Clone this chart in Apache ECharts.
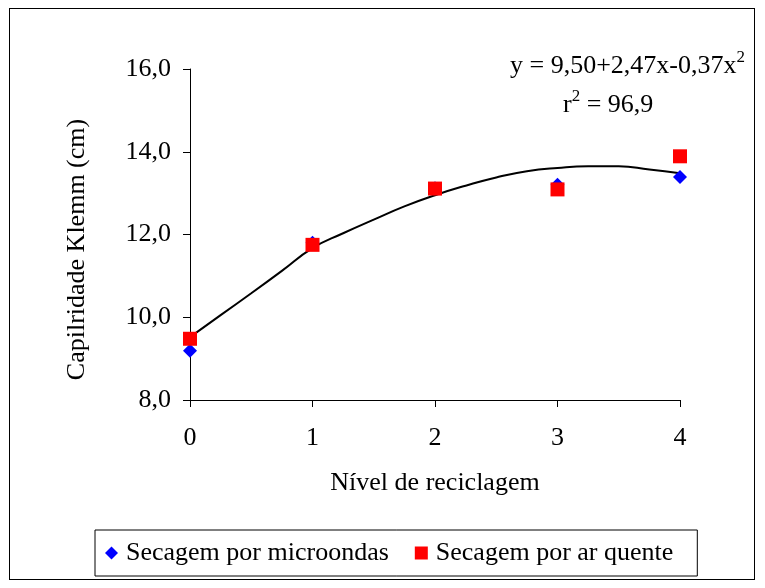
<!DOCTYPE html>
<html>
<head>
<meta charset="utf-8">
<script src="https://cdn.jsdelivr.net/npm/echarts@6/dist/echarts.min.js"></script>
<style>
  html, body { margin: 0; padding: 0; background: #fff; }
  #frame { position: absolute; left: 9px; top: 8px; width: 746px; height: 572px; border: 1px solid #000; box-sizing: border-box; }
  #chart { position: absolute; left: 0; top: 0; width: 765px; height: 588px; }
</style>
</head>
<body>
<div id="frame"></div>
<div id="chart"></div>
<script>
// Recycling level (x) and Klemm capillarity (cm)
const levels = [0, 1, 2, 3, 4];
const microondas = [9.19, 11.80, 13.12, 13.20, 13.39];
const arQuente = [9.48, 11.75, 13.11, 13.09, 13.89];

// Fitted quadratic trend, sampled along the drawn curve
const trendX = [0, 0.25, 0.5, 0.75, 1, 1.25, 1.5, 1.75, 2, 2.25, 2.5, 2.75, 3, 3.25, 3.5, 3.75, 4];
const trendY = [9.52, 10.05, 10.58, 11.12, 11.67, 12.03, 12.36, 12.68, 12.95, 13.18, 13.38, 13.53, 13.61, 13.65, 13.65, 13.57, 13.48];

const yTicks = [8, 10, 12, 14, 16];

const font = '"Liberation Serif", "Times New Roman", serif';
const chart = echarts.init(document.getElementById('chart'));

chart.setOption({
  backgroundColor: 'transparent',
  animation: false,
  textStyle: { fontFamily: font, color: '#000' },
  grid: { left: 190, right: 85, top: 69, bottom: 188 },
  xAxis: {
    type: 'value', min: 0, max: 4, interval: 1,
    name: 'Nível de reciclagem', nameLocation: 'middle', nameGap: 70,
    nameTextStyle: { fontFamily: font, fontSize: 26, color: '#000' },
    axisLine: { show: true, lineStyle: { color: '#000', width: 1 } },
    axisTick: { show: true, length: 7, lineStyle: { color: '#000' } },
    axisLabel: { fontFamily: font, fontSize: 26, color: '#000', margin: 25 },
    splitLine: { show: false }
  },
  yAxis: {
    type: 'value', min: yTicks[0], max: yTicks[yTicks.length - 1], interval: 2,
    name: 'Capilridade Klemm (cm)', nameLocation: 'middle', nameGap: 100, nameRotate: 90,
    nameTextStyle: { fontFamily: font, fontSize: 26, color: '#000', padding: [0, 30, 0, 0] },
    axisLine: { show: true, lineStyle: { color: '#000', width: 1 } },
    axisTick: { show: true, length: 7, lineStyle: { color: '#000' } },
    axisLabel: { fontFamily: font, fontSize: 26, color: '#000', margin: 19,
      formatter: v => v.toFixed(1).replace('.', ',') },
    splitLine: { show: false }
  },
  legend: {
    left: 95, top: 530,
    itemGap: 26, itemWidth: 13, itemHeight: 13,
    padding: [10, 24, 10, 10],
    borderColor: '#000', borderWidth: 1, borderRadius: 0,
    textStyle: { fontFamily: font, fontSize: 26, color: '#000', padding: [0, 0, 0, 3] },
    data: [
      { name: 'Secagem por microondas', icon: 'diamond' },
      { name: 'Secagem por ar quente', icon: 'rect' }
    ]
  },
  graphic: [
    {
      type: 'text', right: 20, top: 49,
      style: {
        text: '{n|y = 9,50+2,47x-0,37x}{s|2}',
        rich: {
          n: { fontFamily: font, fontSize: 26, fill: '#000' },
          s: { fontFamily: font, fontSize: 17, fill: '#000', padding: [0, 0, 18, 0] }
        }
      }
    },
    {
      type: 'text', left: 563, top: 88,
      style: {
        text: '{n|r}{s|2}{n| = 96,9}',
        rich: {
          n: { fontFamily: font, fontSize: 26, fill: '#000' },
          s: { fontFamily: font, fontSize: 17, fill: '#000', padding: [0, 0, 18, 0] }
        }
      }
    }
  ],
  series: [
    {
      name: 'Tendência', type: 'line', smooth: true, showSymbol: false, silent: true,
      lineStyle: { color: '#000', width: 2 },
      data: trendX.map((x, i) => [x, trendY[i]]),
      z: 1
    },
    {
      name: 'Secagem por microondas', type: 'scatter', symbol: 'diamond', symbolSize: 14,
      itemStyle: { color: '#0000ff', opacity: 1 },
      data: levels.map((x, i) => [x, microondas[i]]),
      z: 2
    },
    {
      name: 'Secagem por ar quente', type: 'scatter', symbol: 'rect', symbolSize: 14,
      itemStyle: { color: '#ff0000', opacity: 1 },
      data: levels.map((x, i) => [x, arQuente[i]]),
      z: 3
    }
  ]
});
</script>
</body>
</html>
